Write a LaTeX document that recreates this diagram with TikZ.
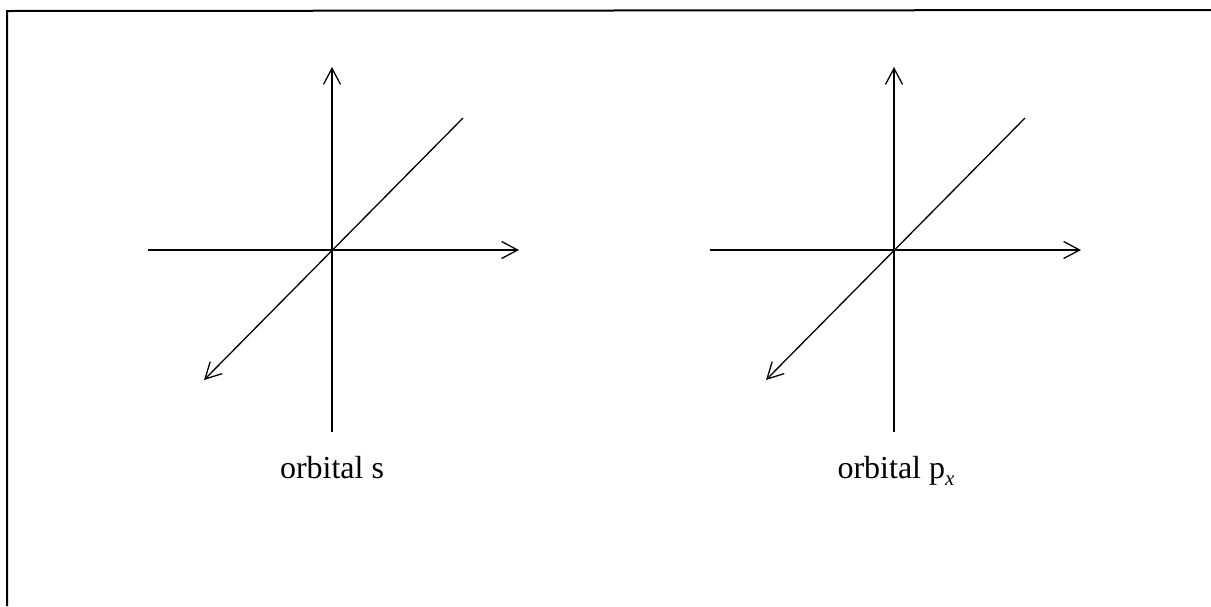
\documentclass[tikz,border=0pt]{standalone}
\usepackage{fontspec}
\setmainfont{Liberation Serif}
\usetikzlibrary{arrows.meta}
\tikzset{
  axis/.style={line width=1.3pt, -{Straight Barb[length=16pt,width=17pt,line width=1.3pt]}},
  frameline/.style={line width=2pt},
  caption/.style={anchor=base, inner sep=0pt, font=\fontsize{32}{38}\selectfont}
}
\newcommand{\lowsub}[1]{\raisebox{-0.22em}{\fontsize{21}{21}\selectfont\itshape #1}}
\begin{document}
\begin{tikzpicture}[x=1pt,y=-1pt]
\useasboundingbox (0,0) rectangle (1211,606);
% frame (top and left edges)
\coordinate (fbl) at (7,606);
\coordinate (ftl) at (7,11);
\coordinate (ftr) at (1211,10);
\draw[frameline] (fbl) -- (ftl) -- (ftr);

% left diagram
\coordinate (o1) at (332,250);
\coordinate (v1b) at (332,432);
\coordinate (v1t) at (332,67);
\coordinate (h1l) at (148,250);
\coordinate (h1r) at (519,250);
\coordinate (d1u) at (463,118);
\coordinate (d1d) at (204,380);
\draw[axis] (v1b) -- (v1t);
\draw[axis] (h1l) -- (h1r);
\draw[axis] (d1u) -- (d1d);
\node[caption] (c1) at (332,478) {orbital s};

% right diagram
\coordinate (o2) at (894,250);
\coordinate (v2b) at (894,432);
\coordinate (v2t) at (894,67);
\coordinate (h2l) at (710,250);
\coordinate (h2r) at (1081,250);
\coordinate (d2u) at (1025,118);
\coordinate (d2d) at (766,380);
\draw[axis] (v2b) -- (v2t);
\draw[axis] (h2l) -- (h2r);
\draw[axis] (d2u) -- (d2d);
\node[caption] (c2) at (896,478) {orbital p\lowsub{x}};
\end{tikzpicture}
\end{document}
